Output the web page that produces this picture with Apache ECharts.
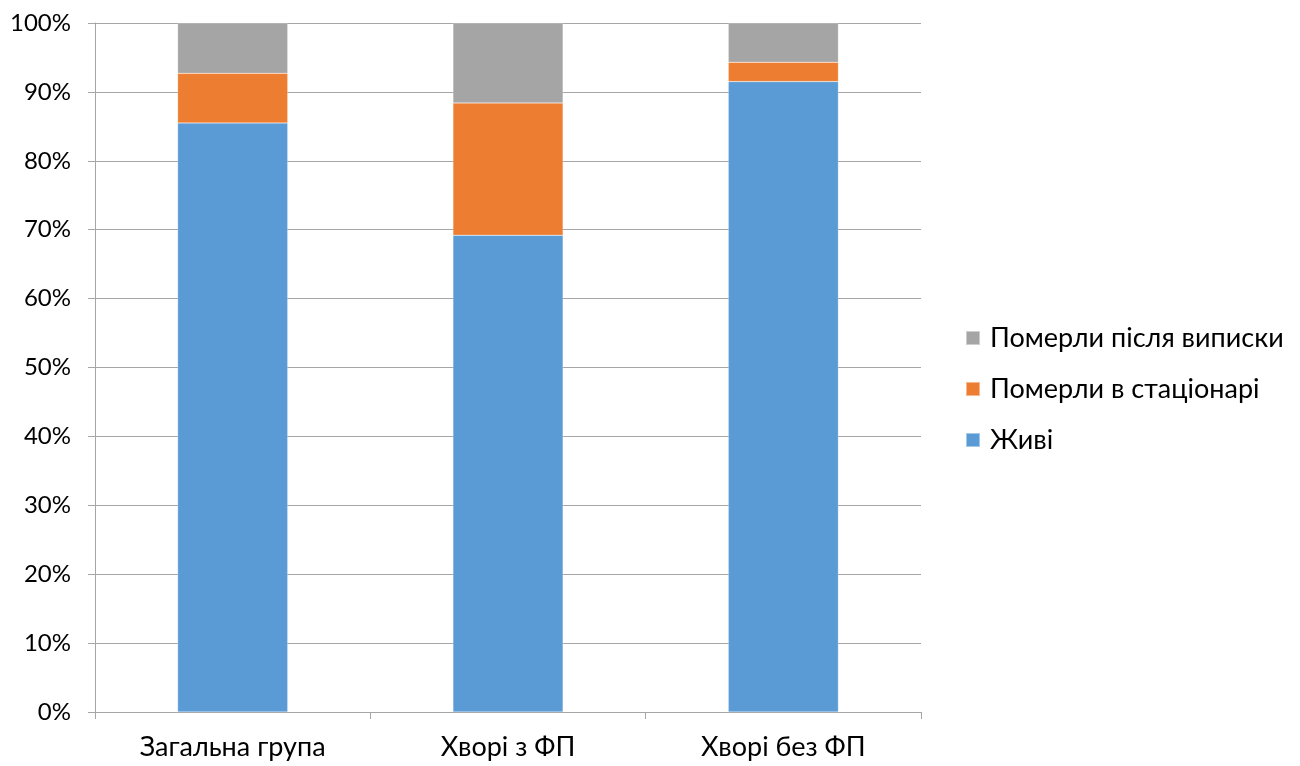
<!DOCTYPE html>
<html>
<head>
<meta charset="utf-8">
<script src="https://cdn.jsdelivr.net/npm/echarts@6/dist/echarts.min.js"></script>
<style>
html,body{margin:0;padding:0;background:#fff;}
#chart{width:1300px;height:766px;}
</style>
</head>
<body>
<div id="chart"></div>
<script>
// Outcome shares by patient group (percent of group)
const categories = ['Загальна група', 'Хворі з ФП', 'Хворі без ФП'];
const alive = [85.5, 69.2, 91.5];
const diedInHospital = [7.2, 19.2, 2.8];
const diedAfterDischarge = [7.3, 11.6, 5.7];
const yTicks = [0, 10, 20, 30, 40, 50, 60, 70, 80, 90, 100];

const fontFamily = 'Lato, "Open Sans", sans-serif';
const chart = echarts.init(document.getElementById('chart'));

function seg(name, data, color) {
  return {
    name: name,
    type: 'bar',
    stack: 'total',
    data: data,
    barWidth: '40%',
    itemStyle: { color: color, borderColor: 'rgba(255,255,255,0.45)', borderWidth: 0.5 },
    emphasis: { disabled: true }
  };
}

chart.setOption({
  animation: false,
  textStyle: { fontFamily: fontFamily },
  grid: { left: 95, right: 379, top: 23, bottom: 54, containLabel: false },
  legend: {
    orient: 'vertical',
    left: 965,
    top: 323,
    padding: 0,
    itemWidth: 14,
    itemHeight: 14,
    itemGap: 21,
    icon: 'rect',
    textStyle: { fontSize: 27, lineHeight: 30, color: '#000', fontFamily: fontFamily, padding: [0, 0, 0, 5] },
    data: ['Померли після виписки', 'Померли в стаціонарі', 'Живі']
  },
  xAxis: {
    type: 'category',
    data: categories,
    axisLine: { lineStyle: { color: '#a6a6a6', width: 1 } },
    axisTick: { show: true, length: 7, alignWithLabel: false, lineStyle: { color: '#a6a6a6' } },
    axisLabel: { fontSize: 27, color: '#000', margin: 22, fontFamily: fontFamily }
  },
  yAxis: {
    type: 'value',
    min: yTicks[0],
    max: yTicks[yTicks.length - 1],
    interval: 10,
    axisLine: { show: true, lineStyle: { color: '#a6a6a6', width: 1 } },
    axisTick: { show: true, length: 7, lineStyle: { color: '#a6a6a6' } },
    splitLine: { lineStyle: { color: '#a6a6a6', width: 1 } },
    axisLabel: { fontSize: 24, color: '#000', margin: 24, formatter: '{value}%', fontFamily: fontFamily }
  },
  series: [
    seg('Живі', alive, '#5B9BD5'),
    seg('Померли в стаціонарі', diedInHospital, '#ED7D31'),
    seg('Померли після виписки', diedAfterDischarge, '#A5A5A5')
  ]
});
</script>
</body>
</html>
